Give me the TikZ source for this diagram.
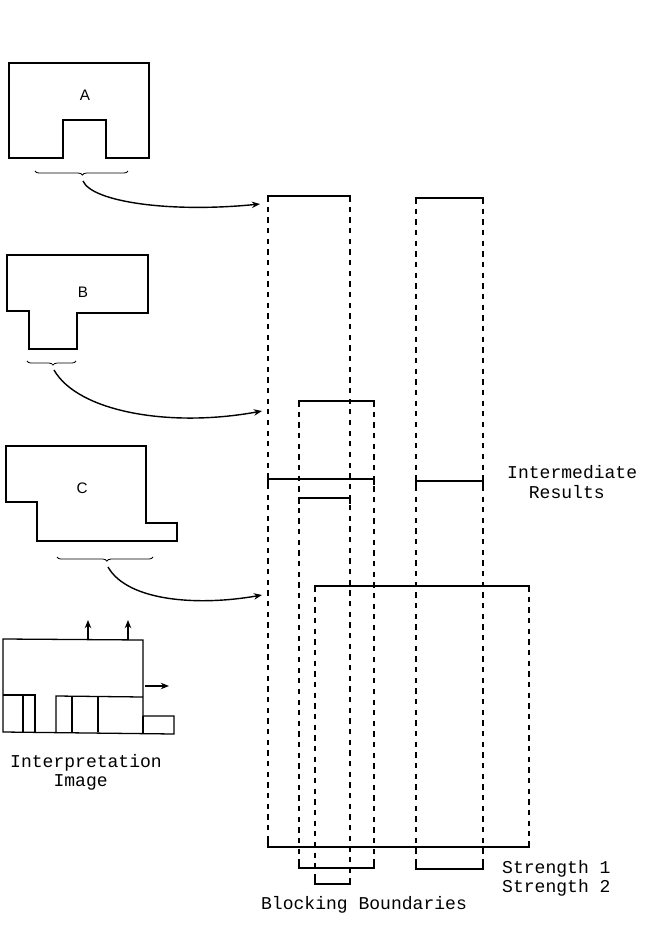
\documentclass[tikz,border=0pt]{standalone}
\usepackage{fontspec}
\newfontfamily\typefont{Liberation Mono}
\newfontfamily\labelfont{Liberation Sans}
\usepackage{tikz}
\usetikzlibrary{decorations.pathreplacing}
\usetikzlibrary{arrows.meta}
\tikzset{
  outline/.style={line width=1.1pt},
  interval/.style={line width=1.4pt, dash pattern=on 4.5pt off 4.6pt},
  bar/.style={line width=1.2pt},
  curly/.style={line width=0.7pt, decorate, decoration={brace, amplitude=3.5pt, aspect=#1}},
  link/.style={line width=1.2pt, -{Stealth[length=7pt,width=5.5pt]}},
  caption/.style={font=\typefont\fontsize{15.4}{16.3}\selectfont, inner sep=0pt, align=left, anchor=west},
  letter/.style={font=\labelfont\fontsize{13}{15}\selectfont, inner sep=0pt}
}

\begin{document}
\begin{tikzpicture}[x=0.3mm,y=-0.3mm]
            \useasboundingbox (0,0) rectangle (658,938);
            \draw[outline] (9,63) -- (149,63) -- (149,158) -- (106,158) -- (106,120) -- (63,120) -- (63,158) -- (9,158) -- cycle;
            \node[letter] (labA) at (85,95) {A};
            \draw[outline] (7,255) -- (148,255) -- (148,313) -- (77,313) -- (77,349) -- (29,349) -- (29,311) -- (7,311) -- cycle;
            \node[letter] (labB) at (83,292) {B};
            \draw[outline] (6,446) -- (146,446) -- (146,523) -- (177,523) -- (177,541) -- (37,541) -- (37,502) -- (6,502) -- cycle;
            \node[letter] (labC) at (82,488) {C};
            \draw[curly=0.49] (128,171) -- (35,171);
            \draw[curly=0.47] (76,361) -- (27,361);
            \draw[curly=0.48] (153,557) -- (57,557);
            \coordinate (fromA) at (83,181);
            \coordinate (toA) at (260,204);
            \coordinate (fromB) at (54,370);
            \coordinate (toB) at (262,411);
            \coordinate (fromC) at (108,567);
            \coordinate (toC) at (262,595);
            \draw[link] (fromA) .. controls (92,202) and (170,213) .. (toA);
            \draw[link] (fromB) .. controls (78,412) and (170,428) .. (toB);
            \draw[link] (fromC) .. controls (128,602) and (200,606) .. (toC);
            \foreach \x/\a/\b in {268/196/847, 350/196/884, 299/401/868, 374/401/868, 416/198/869, 483/198/869, 315/586/884, 529/586/847}
                \draw[interval] (\x,\a) -- (\x,\b);
            \foreach \l/\r/\y/\t in {268/350/196/6, 416/483/198/6, 299/374/401/6, 315/529/586/6, 268/374/479/6, 416/483/481/6, 299/350/498/6, 268/529/847/-6, 299/374/868/-6, 416/483/869/-6, 315/350/884/-6}
                \draw[bar] (\l,{\y+\t}) -- (\l,\y) -- (\r,\y) -- (\r,{\y+\t});
            \draw[outline] (3,639) -- (143,640) -- (143,716) -- (174,716) -- (174,734) -- (3,732) -- cycle;
            \draw[outline] (143,716) -- (143,733);
            \draw[outline] (3,695) -- (35,695) -- (35,732);
            \draw[outline] (56,732) -- (56,696) -- (143,697);
            \foreach \x in {23,72,98}
                \draw[outline] (\x,696) -- (\x,732);
            \coordinate (upL) at (88,639);
            \coordinate (upLend) at (88,620);
            \coordinate (upR) at (128,640);
            \coordinate (upRend) at (128,620);
            \coordinate (side) at (145,686);
            \coordinate (sideend) at (169,686);
            \draw[link, line width=1pt] (upL) -- (upLend);
            \draw[link, line width=1pt] (upR) -- (upRend);
            \draw[link, line width=1pt] (side) -- (sideend);
            \node[caption] (interm) at (507,482) {Intermediate\\\phantom{In}Results};
            \node[caption] (interp) at (10,772) {Interpretation\\\phantom{Inte}Image};
            \node[caption] (strength) at (502,878) {Strength 1\\Strength 2};
            \node[caption, anchor=center] (blocking) at (364,905) {Blocking Boundaries};
        \end{tikzpicture}
\end{document}
